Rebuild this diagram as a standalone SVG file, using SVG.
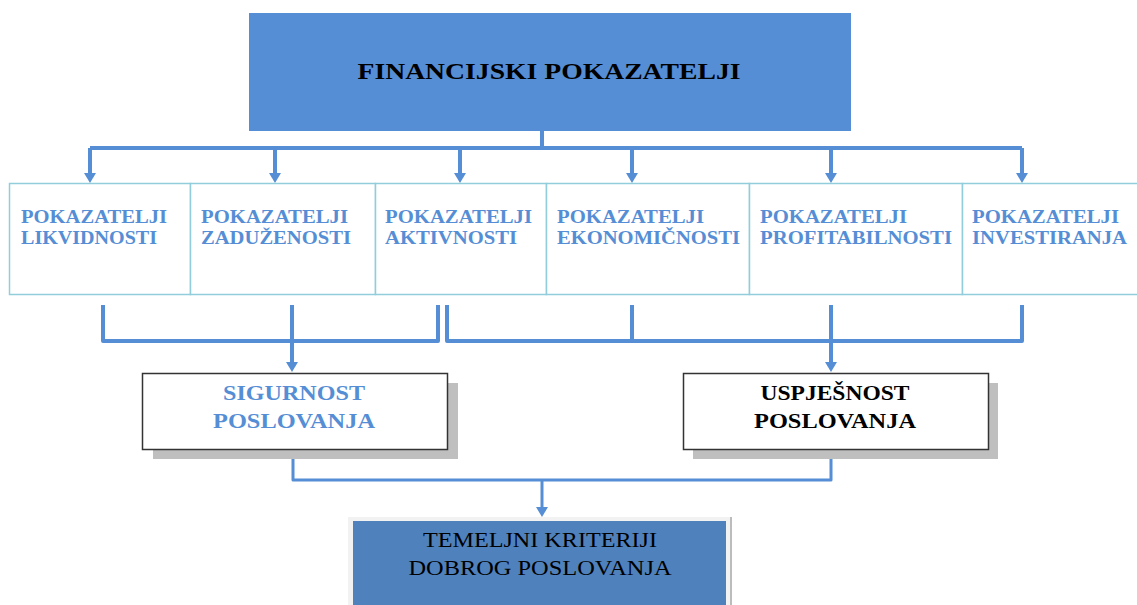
<svg xmlns="http://www.w3.org/2000/svg" width="1137" height="605" viewBox="0 0 1137 605">
<style>
.serif{font-family:"Liberation Serif","Times New Roman",serif}
.ind{font-size:18px;font-weight:bold;fill:#558ED5}
.cat{fill:#ffffff;stroke:#92CDDC;stroke-width:1.5}
.res{fill:#ffffff;stroke:#333333;stroke-width:1.5}
.shadow{fill:#BFBFBF}
.conn{fill:none;stroke:#558ED5;stroke-width:4;stroke-linejoin:round}
.conn3{fill:none;stroke:#558ED5;stroke-width:3;stroke-linejoin:round}
</style>
<defs>
<marker id="arr" viewBox="0 0 10 12" refX="2" refY="6" markerWidth="10" markerHeight="12" markerUnits="userSpaceOnUse" orient="auto">
<path d="M0,0 L10,6 L0,12 z" fill="#558ED5"/>
</marker>
</defs>
<rect width="1137" height="605" fill="#ffffff"/>

<g id="connectors">
<path class="conn" d="M542,131 V148"/>
<path class="conn" d="M90,148 H1022"/>
<path class="conn" d="M90,148 V175" marker-end="url(#arr)"/>
<path class="conn" d="M275,148 V175" marker-end="url(#arr)"/>
<path class="conn" d="M460,148 V175" marker-end="url(#arr)"/>
<path class="conn" d="M632,148 V175" marker-end="url(#arr)"/>
<path class="conn" d="M831,148 V175" marker-end="url(#arr)"/>
<path class="conn" d="M1022,148 V175" marker-end="url(#arr)"/>
<path class="conn" d="M103,305 V341 H438 V305"/>
<path class="conn" d="M292,305 V364" marker-end="url(#arr)"/>
<path class="conn" d="M447,305 V341 H1022 V305"/>
<path class="conn" d="M632,305 V341"/>
<path class="conn" d="M831,305 V364" marker-end="url(#arr)"/>
<path class="conn3" d="M293,450 V480 H831 V450"/>
<path class="conn3" d="M542,480 V509" marker-end="url(#arr)"/>
</g>

<g id="financijski">
<rect x="249" y="13" width="602" height="118" fill="#558ED5"/>
<text class="serif" x="549" y="79" font-size="24" font-weight="bold" fill="#000000" text-anchor="middle" textLength="383" lengthAdjust="spacingAndGlyphs">FINANCIJSKI POKAZATELJI</text>
</g>

<g id="likvidnost">
<rect class="cat" x="9.5" y="183.5" width="181" height="111"/>
<text class="serif ind" x="21" y="223" textLength="146" lengthAdjust="spacingAndGlyphs">POKAZATELJI</text>
<text class="serif ind" x="21" y="244" textLength="136" lengthAdjust="spacingAndGlyphs">LIKVIDNOSTI</text>
</g>
<g id="zaduzenost">
<rect class="cat" x="190.5" y="183.5" width="185" height="111"/>
<text class="serif ind" x="201" y="223" textLength="147" lengthAdjust="spacingAndGlyphs">POKAZATELJI</text>
<text class="serif ind" x="201" y="244" textLength="150" lengthAdjust="spacingAndGlyphs">ZADUŽENOSTI</text>
</g>
<g id="aktivnost">
<rect class="cat" x="375.5" y="183.5" width="171" height="111"/>
<text class="serif ind" x="385" y="223" textLength="147" lengthAdjust="spacingAndGlyphs">POKAZATELJI</text>
<text class="serif ind" x="385" y="244" textLength="132" lengthAdjust="spacingAndGlyphs">AKTIVNOSTI</text>
</g>
<g id="ekonomicnost">
<rect class="cat" x="546.5" y="183.5" width="203" height="111"/>
<text class="serif ind" x="557" y="223" textLength="147" lengthAdjust="spacingAndGlyphs">POKAZATELJI</text>
<text class="serif ind" x="557" y="244" textLength="183" lengthAdjust="spacingAndGlyphs">EKONOMIČNOSTI</text>
</g>
<g id="profitabilnost">
<rect class="cat" x="749.5" y="183.5" width="213" height="111"/>
<text class="serif ind" x="760" y="223" textLength="147" lengthAdjust="spacingAndGlyphs">POKAZATELJI</text>
<text class="serif ind" x="760" y="244" textLength="192" lengthAdjust="spacingAndGlyphs">PROFITABILNOSTI</text>
</g>
<g id="investiranje">
<rect class="cat" x="962.5" y="183.5" width="180" height="111"/>
<text class="serif ind" x="972" y="223" textLength="147" lengthAdjust="spacingAndGlyphs">POKAZATELJI</text>
<text class="serif ind" x="972" y="244" textLength="155" lengthAdjust="spacingAndGlyphs">INVESTIRANJA</text>
</g>

<g id="sigurnost">
<rect class="shadow" x="153" y="383" width="305" height="76"/>
<rect class="res" x="142.5" y="373.5" width="305" height="76"/>
<text class="serif" x="294" y="400" font-size="20" font-weight="bold" fill="#558ED5" text-anchor="middle" textLength="142" lengthAdjust="spacingAndGlyphs">SIGURNOST</text>
<text class="serif" x="294" y="428" font-size="20" font-weight="bold" fill="#558ED5" text-anchor="middle" textLength="162" lengthAdjust="spacingAndGlyphs">POSLOVANJA</text>
</g>

<g id="uspjesnost">
<rect class="shadow" x="693" y="383" width="305" height="76"/>
<rect class="res" x="683.5" y="373.5" width="305" height="76"/>
<text class="serif" x="835" y="400" font-size="20" font-weight="bold" fill="#000000" text-anchor="middle" textLength="149" lengthAdjust="spacingAndGlyphs">USPJEŠNOST</text>
<text class="serif" x="835" y="428" font-size="20" font-weight="bold" fill="#000000" text-anchor="middle" textLength="162" lengthAdjust="spacingAndGlyphs">POSLOVANJA</text>
</g>

<g id="temeljni">
<rect x="348" y="517" width="382" height="90" fill="#F2F2F2"/>
<rect x="353" y="521" width="373" height="86" fill="#4F81BD"/>
<line x1="731" y1="517" x2="731" y2="605" stroke="#A6A6A6" stroke-width="1.5"/>
<text class="serif" x="540" y="547" font-size="22" fill="#000000" text-anchor="middle" textLength="234" lengthAdjust="spacingAndGlyphs">TEMELJNI KRITERIJI</text>
<text class="serif" x="540" y="575" font-size="22" fill="#000000" text-anchor="middle" textLength="263" lengthAdjust="spacingAndGlyphs">DOBROG POSLOVANJA</text>
</g>
</svg>
